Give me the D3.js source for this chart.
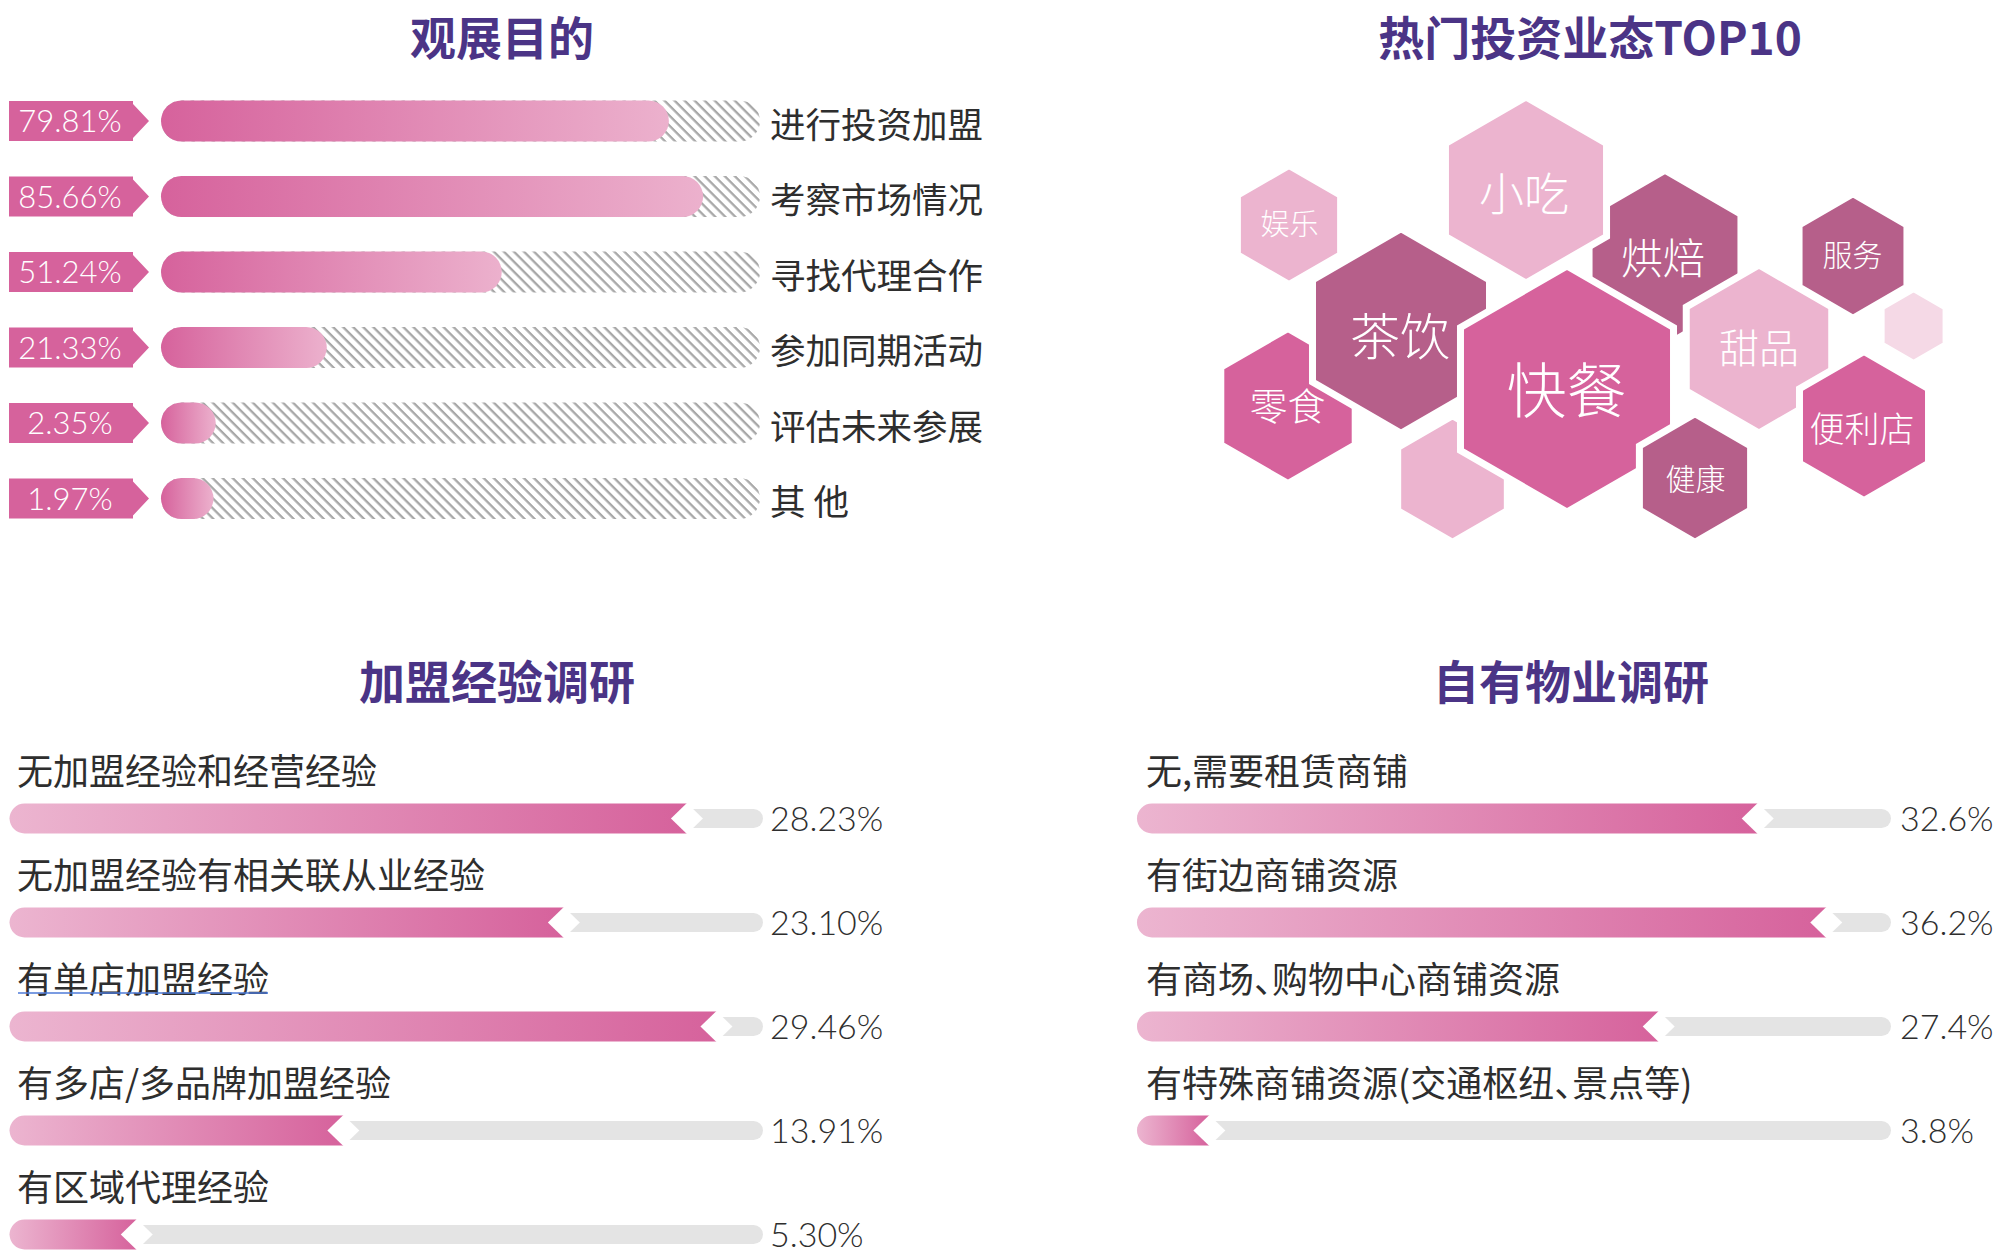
<!DOCTYPE html>
<html>
<head>
<meta charset="utf-8">
<script src="https://cdn.jsdelivr.net/npm/d3@7"></script>
<style>
  html, body { margin: 0; padding: 0; background: #fff; }
  svg { display: block; }
  .cjk { font-feature-settings: "halt"; }
</style>
</head>
<body>
<svg id="chart" width="2003" height="1255"></svg>
<script>
// ---- data ----
const titles = ['观展目的', '热门投资业态TOP10', '加盟经验调研', '自有物业调研'];

const purposeLabels = ['进行投资加盟', '考察市场情况', '寻找代理合作', '参加同期活动', '评估未来参展', '其 他'];
const purposeValues = [79.81, 85.66, 51.24, 21.33, 2.35, 1.97];

// top 10, biggest cell first
const hotCategories = ['快餐', '茶饮', '小吃', '烘焙', '甜品', '零食', '便利店', '健康', '服务', '娱乐'];

const expLabels = ['无加盟经验和经营经验', '无加盟经验有相关联从业经验', '有单店加盟经验', '有多店/多品牌加盟经验', '有区域代理经验'];
const expValues = [28.23, 23.10, 29.46, 13.91, 5.30];

const propLabels = ['无,需要租赁商铺', '有街边商铺资源', '有商场、购物中心商铺资源', '有特殊商铺资源(交通枢纽、景点等)'];
const propValues = [32.6, 36.2, 27.4, 3.8];

// ---- styles ----
const PURPLE = '#4b3486';
const PINK = '#d6629c';
const LIGHT = '#ecb4cf';
const MAUVE = '#b65f8a';
const PALE = '#f5d9e6';
const TEXT = '#2e2e2e';
const TRACK = '#e4e4e4';
const CJK = '"Noto Sans CJK SC", "Noto Sans", sans-serif';
const NUM = 'Lato, "Open Sans", sans-serif';

const svg = d3.select('#chart');
const defs = svg.append('defs');

function gradient(id, from, to) {
  const g = defs.append('linearGradient').attr('id', id)
    .attr('x1', 0).attr('x2', 1).attr('y1', 0).attr('y2', 0);
  g.append('stop').attr('offset', '0%').attr('stop-color', from);
  g.append('stop').attr('offset', '100%').attr('stop-color', to);
}
gradient('gradDarkLight', PINK, '#ecb1cd');
gradient('gradLightDark', '#ecb5d0', PINK);

// diagonal "\" hatch for the unfilled part of 观展目的
const hatch = defs.append('pattern').attr('id', 'hatch')
  .attr('patternUnits', 'userSpaceOnUse')
  .attr('width', 7.1).attr('height', 10)
  .attr('patternTransform', 'rotate(-45)');
hatch.append('rect').attr('width', 7.1).attr('height', 10).attr('fill', '#fff');
hatch.append('line').attr('x1', 1.5).attr('x2', 1.5).attr('y1', 0).attr('y2', 10)
  .attr('stroke', '#a8a8a8').attr('stroke-width', 2.3);

// ---- titles ----
const titlePos = [[502, 35], [1590, 35], [497, 679], [1571, 679]];
svg.selectAll('text.title')
  .data(titles)
  .join('text')
  .attr('class', 'title')
  .attr('x', (d, i) => titlePos[i][0])
  .attr('y', (d, i) => titlePos[i][1])
  .attr('text-anchor', 'middle')
  .attr('dominant-baseline', 'central')
  .attr('font-family', CJK)
  .attr('font-weight', 700)
  .attr('font-size', 46)
  .attr('fill', PURPLE)
  .text(d => d);

// ---- 观展目的 ----
const p1 = svg.append('g');
const p1Y = d3.scalePoint().domain(d3.range(purposeValues.length)).range([121, 121 + 5 * 75.5]);
const p1X = d3.scaleLinear().domain([0, 100]).range([0, 585]);
const p1X0 = 161, p1End = 760, p1H = 41;

const p1Rows = p1.selectAll('g')
  .data(purposeValues)
  .join('g')
  .attr('transform', (d, i) => `translate(0,${p1Y(i)})`);

p1Rows.append('path')
  .attr('d', 'M9,-20H133V-17L149,0L133,17V20H9Z')
  .attr('fill', PINK);

p1Rows.append('text')
  .attr('x', 70)
  .attr('y', 11)
  .attr('text-anchor', 'middle')
  .attr('font-family', NUM)
  .attr('font-weight', 300)
  .attr('font-size', 31)
  .attr('fill', '#fff')
  .text(d => d3.format('.2f')(d) + '%');

p1Rows.append('rect')
  .attr('x', p1X0).attr('y', -p1H / 2)
  .attr('width', p1End - p1X0).attr('height', p1H)
  .attr('rx', p1H / 2)
  .attr('fill', 'url(#hatch)');

p1Rows.append('rect')
  .attr('x', p1X0).attr('y', -p1H / 2)
  .attr('width', d => p1H + p1X(d)).attr('height', p1H)
  .attr('rx', p1H / 2)
  .attr('fill', 'url(#gradDarkLight)');

p1Rows.append('text')
  .attr('class', 'cjk')
  .attr('x', 770)
  .attr('y', 1)
  .attr('dominant-baseline', 'central')
  .attr('font-family', CJK)
  .attr('font-size', 35.5)
  .attr('fill', TEXT)
  .text((d, i) => purposeLabels[i]);

// ---- 热门投资业态TOP10 (hex cloud) ----
// layout of the cells, in drawing order; cat indexes hotCategories, -1 = empty cell
const hexCells = [
  { cat: 9, cx: 1289, cy: 225, r: 59.6, tone: LIGHT, fs: 29, tx: 1289.5, ty: 222 },
  { cat: 8, cx: 1853, cy: 256, r: 62.3, tone: MAUVE, fs: 30, tx: 1852.6, ty: 253 },
  { cat: -1, cx: 1913.6, cy: 326, r: 37.5, tone: PALE },
  { cat: 5, cx: 1288, cy: 406, r: 77.6, tone: PINK, fs: 38, tx: 1287.6, ty: 403 },
  { cat: 1, cx: 1401, cy: 331, r: 102.2, tone: MAUVE, fs: 50, tx: 1400, ty: 333 },
  { cat: 3, cx: 1665, cy: 258, r: 87.7, tone: MAUVE, fs: 42, tx: 1663, ty: 255 },
  { cat: 2, cx: 1526, cy: 190, r: 93, tone: LIGHT, fs: 45, tx: 1524, ty: 191 },
  { cat: -1, cx: 1452.5, cy: 479, r: 63.3, tone: LIGHT },
  { cat: 0, cx: 1567, cy: 389, r: 123, tone: PINK, fs: 60, tx: 1566.5, ty: 386 },
  { cat: 4, cx: 1759, cy: 349, r: 84, tone: LIGHT, fs: 40, tx: 1759, ty: 346 },
  { cat: 7, cx: 1695, cy: 478, r: 64.2, tone: MAUVE, fs: 30, tx: 1695.6, ty: 477 },
  { cat: 6, cx: 1864, cy: 426, r: 74.5, tone: PINK, fs: 35, tx: 1862, ty: 426 }
];

function hexPath(c) {
  const pts = d3.range(6).map(k => {
    const a = (Math.PI / 3) * k - Math.PI / 2;
    return [c.cx + c.r * Math.cos(a), c.cy + c.r * Math.sin(a)];
  });
  return d3.line()(pts) + 'Z';
}

const hexes = svg.append('g').selectAll('g')
  .data(hexCells)
  .join('g');

hexes.append('path')
  .attr('d', hexPath)
  .attr('fill', d => d.tone)
  .attr('stroke', '#fff')
  .attr('stroke-width', 7)
  .attr('stroke-linejoin', 'miter');

hexes.filter(d => d.cat >= 0)
  .append('text')
  .attr('x', d => d.tx)
  .attr('y', d => d.ty)
  .attr('text-anchor', 'middle')
  .attr('dominant-baseline', 'central')
  .attr('font-family', CJK)
  .attr('font-weight', 300)
  .attr('font-size', d => d.fs)
  .attr('fill', '#fff')
  .text(d => hotCategories[d.cat]);

// ---- bar lists with notch marker (加盟经验调研 / 自有物业调研) ----
function notchBars(labels, values, o) {
  const g = svg.append('g');
  const x = d3.scaleLinear().domain([0, o.domainMax]).range([0, o.end - o.x0]);
  const fmt = d3.format(o.fmt);
  const h = 30, th = 19;

  const rows = g.selectAll('g')
    .data(values)
    .join('g')
    .attr('transform', (d, i) => `translate(0,${o.barY + i * o.step})`);

  rows.append('text')
    .attr('class', 'cjk')
    .attr('x', o.labelX)
    .attr('y', o.labelY - o.barY)
    .attr('dominant-baseline', 'central')
    .attr('font-family', CJK)
    .attr('font-size', 36)
    .attr('fill', TEXT)
    .text((d, i) => labels[i]);

  rows.append('rect')
    .attr('x', o.x0).attr('y', -th / 2)
    .attr('width', o.end - o.x0).attr('height', th)
    .attr('rx', th / 2)
    .attr('fill', TRACK);

  rows.append('path')
    .attr('d', d => {
      const xe = o.x0 + x(d);
      return `M${o.x0 + h / 2},${-h / 2}H${xe}V${h / 2}H${o.x0 + h / 2}A${h / 2},${h / 2} 0 0 1 ${o.x0 + h / 2},${-h / 2}Z`;
    })
    .attr('fill', 'url(#gradLightDark)');

  rows.append('path')
    .attr('d', d => {
      const xe = o.x0 + x(d);
      return `M${xe - 16},0L${xe},${-h / 2 - 0.5}L${xe + 16},0L${xe},${h / 2 + 0.5}Z`;
    })
    .attr('fill', '#fff');

  rows.append('text')
    .attr('x', o.valueX)
    .attr('y', 12)
    .attr('font-family', NUM)
    .attr('font-weight', 300)
    .attr('font-size', 34)
    .attr('fill', TEXT)
    .text(d => fmt(d) + '%');

  return rows;
}

const expRows = notchBars(expLabels, expValues, {
  x0: 9.6, end: 763, domainMax: 31.4, fmt: '.2f',
  labelX: 17, labelY: 769, barY: 818.5, step: 104, valueX: 770
});

notchBars(propLabels, propValues, {
  x0: 1137, end: 1891, domainMax: 39.6, fmt: '.1f',
  labelX: 1146, labelY: 769, barY: 818.5, step: 104, valueX: 1900
});

// thin blue underline that sits under the third label in the original
expRows.filter((d, i) => i === 2).each(function () {
  const t = d3.select(this).select('text').node();
  const w = t.getComputedTextLength();
  d3.select(this).append('line')
    .attr('x1', 18).attr('x2', 16 + w)
    .attr('y1', 993 - 1026.5).attr('y2', 993 - 1026.5)
    .attr('stroke', '#4f7bd9').attr('stroke-width', 1.5);
});
</script>
</body>
</html>
